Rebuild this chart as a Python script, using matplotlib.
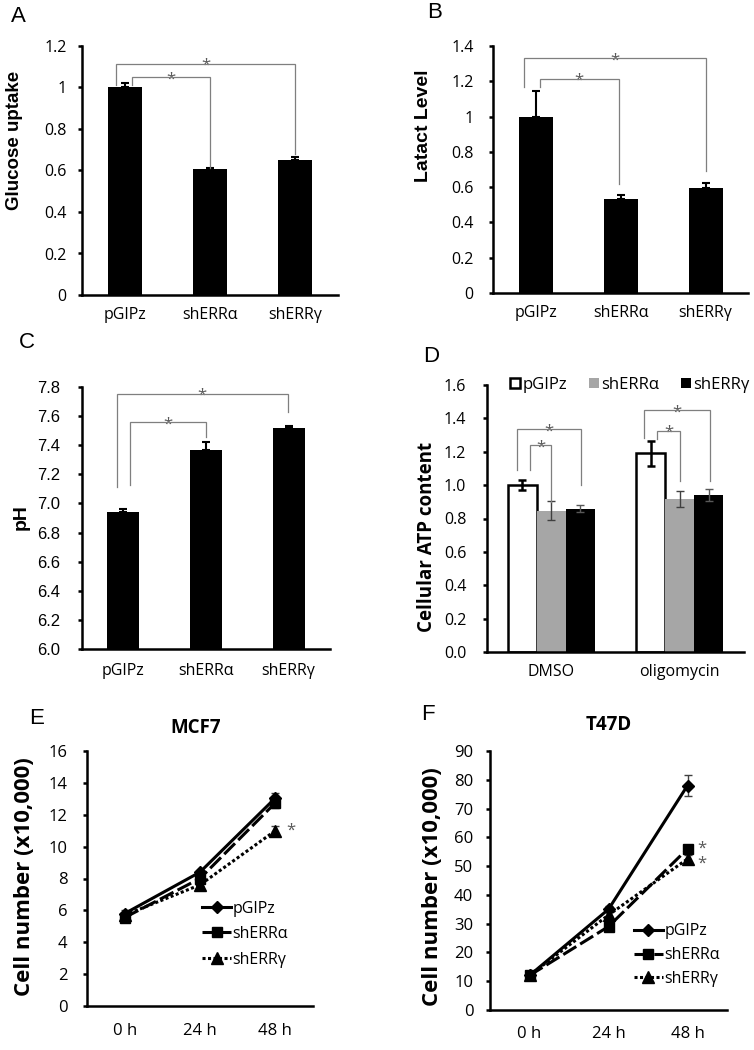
import matplotlib
matplotlib.use("Agg")
import matplotlib.pyplot as plt
from matplotlib.ticker import FormatStrFormatter, FuncFormatter

plt.rcParams["font.family"] = ["Open Sans", "DejaVu Sans"]

# --- data ---
groups = ["pGIPz", "shERRα", "shERRγ"]
glucose = [1.0, 0.605, 0.65]
glucose_err = [0.02, 0.005, 0.015]
lactate = [1.0, 0.533, 0.597]
lactate_err = [0.145, 0.02, 0.025]
ph = [6.94, 7.37, 7.52]
ph_err = [0.025, 0.05, 0.015]

conditions = ["DMSO", "oligomycin"]
atp_pgipz = [1.0, 1.19]
atp_pgipz_err = [0.032, 0.075]
atp_alpha = [0.847, 0.917]
atp_alpha_err = [0.055, 0.05]
atp_gamma = [0.859, 0.942]
atp_gamma_err = [0.02, 0.037]

timepoints = ["0 h", "24 h", "48 h"]
mcf7_pgipz = [5.8, 8.4, 13.05]
mcf7_pgipz_err = [0.2, 0.1, 0.3]
mcf7_alpha = [5.55, 8.0, 12.75]
mcf7_alpha_err = [0.1, 0.1, 0.3]
mcf7_gamma = [5.7, 7.6, 11.0]
mcf7_gamma_err = [0.1, 0.1, 0.3]
t47d_pgipz = [12.0, 35.0, 78.0]
t47d_pgipz_err = [0.5, 1.0, 3.5]
t47d_alpha = [12.0, 29.0, 56.0]
t47d_alpha_err = [0.5, 1.0, 1.5]
t47d_gamma = [12.0, 33.0, 52.5]
t47d_gamma_err = [0.5, 1.0, 1.5]

W, H = 754, 1050
fig = plt.figure(figsize=(W / 100, H / 100), dpi=100)

SPINE_LW = 1.8
BRACKET = "#7f7f7f"
STAR = "#595959"


def axes_px(left, top, right, bottom):
    return fig.add_axes([left / W, 1 - bottom / H, (right - left) / W, (bottom - top) / H])


def style(ax, ypad, xpad, ysize=11.5, yfamily=None):
    for side in ("top", "right"):
        ax.spines[side].set_visible(False)
    for side in ("left", "bottom"):
        ax.spines[side].set_linewidth(SPINE_LW)
    ax.tick_params(axis="y", direction="out", length=3, width=SPINE_LW,
                   pad=ypad, labelsize=ysize)
    ax.tick_params(axis="x", length=0, pad=xpad, labelsize=11.5)
    if yfamily:
        for lab in ax.get_yticklabels():
            lab.set_family(yfamily)


def fig_text(x, y, s, **kw):
    fig.text(x / W, 1 - y / H, s, ha="center", va="center", **kw)


def bracket(ax, x0, x1, top, y0, y1):
    ax.plot([x0, x0, x1, x1], [y0, top, top, y1], color=BRACKET, lw=0.9,
            solid_joinstyle="miter", zorder=4)
    ax.annotate("*", ((x0 + x1) / 2, top), xytext=(0, -4.5),
                textcoords="offset points", ha="center", va="baseline",
                fontsize=12, color=STAR)


general = FuncFormatter(lambda v, p: f"{v:g}")
x3 = range(len(groups))

# --- A: glucose uptake ---
ax = axes_px(82, 46, 338, 295)
ax.bar(x3, glucose, 0.4, color="black",
       yerr=[[0] * 3, glucose_err], capsize=3,
       error_kw=dict(elinewidth=1.5, capthick=1.5, ecolor="black"))
ax.set_xlim(-0.5, 2.5)
ax.set_ylim(0, 1.2)
ax.set_yticks([0, 0.2, 0.4, 0.6, 0.8, 1.0, 1.2])
ax.yaxis.set_major_formatter(general)
ax.set_xticks(list(x3))
ax.set_xticklabels(groups)
style(ax, 8, 8.5)
bracket(ax, -0.1, 2.0, 1.115, 1.01, 0.68)
bracket(ax, 0.09, 1.0, 1.05, 1.01, 0.61)

# --- B: lactate ---
ax = axes_px(493, 46, 748, 293)
ax.bar(x3, lactate, 0.4, color="black",
       yerr=[[0] * 3, lactate_err], capsize=3,
       error_kw=dict(elinewidth=1.5, capthick=1.5, ecolor="black"))
ax.set_xlim(-0.5, 2.5)
ax.set_ylim(0, 1.4)
ax.set_yticks([0, 0.2, 0.4, 0.6, 0.8, 1.0, 1.2, 1.4])
ax.yaxis.set_major_formatter(general)
ax.set_xticks(list(x3))
ax.set_xticklabels(groups)
style(ax, 11, 8.5)
bracket(ax, -0.13, 2.0, 1.33, 1.165, 0.69)
bracket(ax, 0.05, 0.98, 1.215, 1.165, 0.62)

# --- C: pH ---
ax = axes_px(82, 387, 330, 649)
ax.bar(x3, [v - 6.0 for v in ph], 0.39, bottom=6.0, color="black",
       yerr=[[0] * 3, ph_err], capsize=3,
       error_kw=dict(elinewidth=1.5, capthick=1.5, ecolor="black"))
ax.set_xlim(-0.5, 2.5)
ax.set_ylim(6.0, 7.8)
ax.set_yticks([6.0 + 0.2 * i for i in range(10)])
ax.yaxis.set_major_formatter(FormatStrFormatter("%.1f"))
ax.set_xticks(list(x3))
ax.set_xticklabels(groups)
style(ax, 13, 10, ysize=12, yfamily="Liberation Sans")
bracket(ax, -0.08, 1.99, 7.754, 7.115, 7.63)
bracket(ax, 0.08, 1.0, 7.56, 7.13, 7.457)

# --- D: ATP content ---
ax = axes_px(487, 385, 744, 652)
w = 0.225
x2 = list(range(len(conditions)))
ax.bar([x - w for x in x2], atp_pgipz, w, color="white", edgecolor="black",
       linewidth=1.8, label="pGIPz", yerr=atp_pgipz_err, capsize=3,
       error_kw=dict(elinewidth=1.8, capthick=1.8, ecolor="black"))
ax.bar(x2, atp_alpha, w, color="#a6a6a6", label="shERRα",
       yerr=atp_alpha_err, capsize=3,
       error_kw=dict(elinewidth=1.0, capthick=1.0, ecolor="#404040"))
ax.bar([x + w for x in x2], atp_gamma, w, color="black", label="shERRγ",
       yerr=atp_gamma_err, capsize=3,
       error_kw=dict(elinewidth=1.0, capthick=1.0, ecolor="#595959"))
ax.set_xlim(-0.5, 1.5)
ax.set_ylim(0, 1.6)
ax.set_yticks([0.2 * i for i in range(9)])
ax.yaxis.set_major_formatter(FormatStrFormatter("%.1f"))
ax.set_xticks(x2)
ax.set_xticklabels(conditions)
style(ax, 12, 8.5)
ax.legend(loc="center left", bbox_to_anchor=(0.09, 1.0), ncol=3,
          frameon=False, fontsize=12, handlelength=0.6, handleheight=0.6,
          handletextpad=0.15, columnspacing=1.3, borderpad=0,
          borderaxespad=0)
bracket(ax, -0.267, 0.235, 1.335, 1.092, 1.0)
bracket(ax, -0.168, 0.0, 1.241, 1.092, 0.897)
bracket(ax, 1 - 0.281, 1 + 0.233, 1.45, 1.281, 1.022)
bracket(ax, 1 - 0.177, 1.0, 1.327, 1.275, 1.022)


def growth(ax, series, ymax, ystep, legend_anchor, spacing):
    styles = [
        dict(ls="-", marker="D", ms=6, label="pGIPz"),
        dict(ls=(0, (5, 1.5)), marker="s", ms=7, label="shERRα"),
        dict(ls=(0, (1, 0.8)), marker="^", ms=8, label="shERRγ"),
    ]
    xs = list(range(len(timepoints)))
    for (vals, errs), st in zip(series, styles):
        ax.errorbar(xs, vals, yerr=errs, fmt="none", capsize=3,
                    elinewidth=1.0, capthick=1.0, ecolor="#404040", zorder=2)
        ax.plot(xs, vals, color="black", lw=2.2, zorder=3, **st)
    ax.set_xlim(-0.5, 2.5)
    ax.set_ylim(0, ymax)
    ax.set_yticks(range(0, ymax + 1, ystep))
    ax.set_xticks(xs)
    ax.set_xticklabels(timepoints)
    ax.legend(loc="center left", bbox_to_anchor=legend_anchor, frameon=False,
              fontsize=11.5, handlelength=1.8, handletextpad=0.1,
              labelspacing=spacing, borderpad=0, borderaxespad=0,
              numpoints=1)


# --- E: MCF7 ---
ax = axes_px(87, 751, 313, 1006)
growth(ax, [(mcf7_pgipz, mcf7_pgipz_err), (mcf7_alpha, mcf7_alpha_err),
            (mcf7_gamma, mcf7_gamma_err)], 16, 2, (0.51, 0.282), 0.6)
style(ax, 11, 12, ysize=12)
ax.tick_params(axis="x", labelsize=12)
ax.annotate("*", (2, mcf7_gamma[2]), xytext=(11, -3), textcoords="offset points",
            ha="center", va="baseline", fontsize=12, color=STAR)

# --- F: T47D ---
ax = axes_px(490, 751, 727, 1010)
growth(ax, [(t47d_pgipz, t47d_pgipz_err), (t47d_alpha, t47d_alpha_err),
            (t47d_gamma, t47d_gamma_err)], 90, 10, (0.607, 0.212), 0.5)
style(ax, 9, 11.5, ysize=12)
ax.tick_params(axis="x", labelsize=12)
# two stars (shERRα above, shERRγ below) stacked in one text
ax.annotate("*\n*", (2, t47d_alpha[2]), xytext=(10, 6), textcoords="offset points",
            ha="center", va="top", fontsize=12, color=STAR, linespacing=0.9)

# --- axis titles, panel letters ---
bold = dict(fontweight="bold", family=["Liberation Sans", "DejaVu Sans"])
fig_text(15, 140, "Glucose uptake", rotation=90, fontsize=13.5, **bold)
fig_text(424, 126, "Latact Level", rotation=90, fontsize=14, **bold)
fig_text(21, 517, "pH", rotation=90, fontsize=14, **bold)
fig_text(427, 537, "Cellular ATP content", rotation=90, fontsize=13.5,
         fontweight="bold")
fig_text(25, 877, "Cell number (x10,000)", rotation=90, fontsize=16,
         fontweight="bold")
fig_text(432, 887, "Cell number (x10,000)", rotation=90, fontsize=16,
         fontweight="bold")
fig_text(196, 728, "MCF7", fontsize=13.5, fontweight="bold")
fig_text(609, 725, "T47D", fontsize=13.5, fontweight="bold")

letter = dict(fontsize=16, family=["Liberation Sans", "DejaVu Sans"])
for s, x, y in [("A", 18, 16), ("B", 435, 13), ("C", 27, 343),
                ("D", 431, 356), ("E", 37, 719), ("F", 428, 714)]:
    fig_text(x, y, s, **letter)

fig.savefig("out.png", dpi=100)
